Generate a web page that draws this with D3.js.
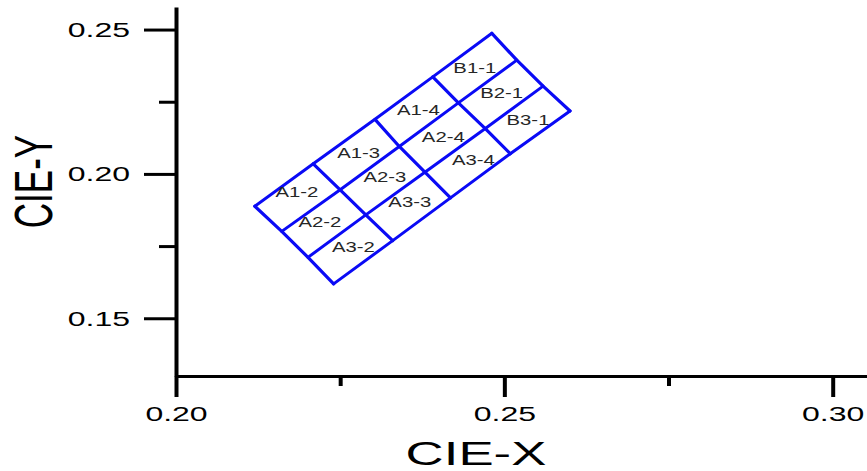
<!DOCTYPE html>
<html>
<head>
<meta charset="utf-8">
<script src="https://cdn.jsdelivr.net/npm/d3@7"></script>
<style>
  html, body { margin: 0; padding: 0; background: #fff; }
  svg { display: block; }
  text { font-family: "Liberation Sans", Arial, sans-serif; }
</style>
</head>
<body>
<svg id="chart" width="867" height="471"></svg>
<script>
// ---- data ----
const xMajorTicks = [0.20, 0.25, 0.30];
const xMinorTicks = [0.225, 0.275];
const yMajorTicks = [0.15, 0.20, 0.25];
const yMinorTicks = [0.175, 0.225];
const xTickLabels = ["0.20", "0.25", "0.30"];
const yTickLabels = ["0.15", "0.20", "0.25"];

// grid vertices: 4 long lines, each with 5 nodes (CIE x, CIE y)
const gridLine1X = [0.2120, 0.2209, 0.2303, 0.2391, 0.2481];
const gridLine1Y = [0.1888, 0.2035, 0.2189, 0.2336, 0.2487];
const gridLine2X = [0.2161, 0.2250, 0.2340, 0.2430, 0.2519];
const gridLine2Y = [0.1801, 0.1945, 0.2095, 0.2246, 0.2394];
const gridLine3X = [0.2201, 0.2289, 0.2379, 0.2471, 0.2559];
const gridLine3Y = [0.1711, 0.1858, 0.2006, 0.2157, 0.2304];
const gridLine4X = [0.2240, 0.2330, 0.2418, 0.2509, 0.2600];
const gridLine4Y = [0.1619, 0.1769, 0.1917, 0.2070, 0.2218];

const binNames = ["B1-1", "B2-1", "B3-1", "A1-4", "A2-4", "A3-4",
                  "A1-3", "A2-3", "A3-3", "A1-2", "A2-2", "A3-2"];
const binLabelX = [0.2455, 0.2496, 0.2536, 0.2369, 0.2407, 0.2453,
                   0.2278, 0.2318, 0.2356, 0.2184, 0.2219, 0.2270];
const binLabelY = [0.2367, 0.2281, 0.2188, 0.2220, 0.2128, 0.2047,
                   0.2072, 0.1989, 0.1902, 0.1937, 0.1835, 0.1746];

const xTitle = "CIE-X";
const yTitle = "CIE-Y";

// ---- layout ----
const svg = d3.select("#chart");
const X0 = 176, X1 = 867, Y0 = 376, Y1 = 7;
const SX = 1.6; // horizontal text stretch of the original

const x = d3.scaleLinear().domain([0.20, 0.30]).range([X0, 832.7]);
const yTop = 0.25 + (29.5 - Y1) / 2880;
const y = d3.scaleLinear().domain([0.13, yTop]).range([Y0, Y1]);
const xMax = x.invert(X1);
x.domain([0.20, xMax]).range([X0, X1]);

// ---- grid ----
const gridLines = [
  d3.zip(gridLine1X, gridLine1Y),
  d3.zip(gridLine2X, gridLine2Y),
  d3.zip(gridLine3X, gridLine3Y),
  d3.zip(gridLine4X, gridLine4Y)
];
const crossLines = d3.range(gridLine1X.length).map(i => gridLines.map(l => l[i]));
const line = d3.line().x(d => x(d[0])).y(d => y(d[1]));

const gGrid = svg.append("g");
gGrid.selectAll("path.long").data(gridLines).join("path")
  .attr("class", "long")
  .attr("d", line)
  .attr("fill", "none").attr("stroke", "#0a0af5").attr("stroke-width", 3)
  .attr("stroke-linecap", "round").attr("stroke-linejoin", "round");
gGrid.selectAll("path.cross").data(crossLines).join("path")
  .attr("class", "cross")
  .attr("d", line)
  .attr("fill", "none").attr("stroke", "#0a0af5").attr("stroke-width", 3.2)
  .attr("stroke-linecap", "round").attr("stroke-linejoin", "round");

// ---- bin labels ----
svg.append("g").selectAll("text").data(binNames).join("text")
  .attr("transform", (d, i) => `translate(${x(binLabelX[i])},${y(binLabelY[i])}) scale(1.45,1)`)
  .attr("text-anchor", "middle")
  .attr("dy", "0.36em")
  .attr("font-size", 14)
  .attr("fill", "#262626")
  .text(d => d);

// ---- axes ----
const gx = svg.append("g").attr("transform", `translate(0,${Y0})`);
gx.call(d3.axisBottom(x).tickValues(xMinorTicks).tickSize(10).tickSizeOuter(0).tickFormat(""));
gx.call(g => g.selectAll(".tick line").attr("stroke-width", 4));
const gxM = svg.append("g").attr("transform", `translate(0,${Y0})`);
gxM.call(d3.axisBottom(x).tickValues(xMajorTicks).tickSize(21).tickSizeOuter(0)
  .tickFormat((d, i) => xTickLabels[i]));
gxM.select(".domain").attr("stroke-width", 3);
gxM.selectAll(".tick line").attr("stroke-width", 4);
gxM.selectAll(".tick text")
  .attr("y", 0).attr("dy", 0)
  .attr("transform", "translate(0,45) scale(1.6,1)")
  .attr("font-size", 20).attr("fill", "#000");
gx.select(".domain").remove();

const gy = svg.append("g").attr("transform", `translate(${X0},0)`);
gy.call(d3.axisLeft(y).tickValues(yMinorTicks).tickSize(17).tickSizeOuter(0).tickFormat(""));
gy.selectAll(".tick line").attr("stroke-width", 3);
gy.select(".domain").remove();
const gyM = svg.append("g").attr("transform", `translate(${X0},0)`);
gyM.call(d3.axisLeft(y).tickValues(yMajorTicks).tickSize(32).tickSizeOuter(0)
  .tickFormat((d, i) => yTickLabels[i]));
gyM.select(".domain").attr("stroke-width", 4);
gyM.selectAll(".tick line").attr("stroke-width", 3);
gyM.selectAll(".tick text")
  .attr("x", 0).attr("dy", "0.34em")
  .attr("transform", "translate(-46,0) scale(1.6,1)")
  .attr("text-anchor", "end")
  .attr("font-size", 20).attr("fill", "#000");

svg.selectAll(".domain, .tick line").attr("stroke", "#000");

// ---- titles ----
svg.append("text")
  .attr("transform", `translate(476,465) scale(${SX},1)`)
  .attr("text-anchor", "middle")
  .attr("font-size", 33).attr("fill", "#000")
  .text(xTitle);

svg.append("text")
  .attr("transform", `translate(51.5,181.5) scale(1.52,1) rotate(-90)`)
  .attr("text-anchor", "middle")
  .attr("font-size", 35).attr("fill", "#000")
  .text(yTitle);
</script>
</body>
</html>
